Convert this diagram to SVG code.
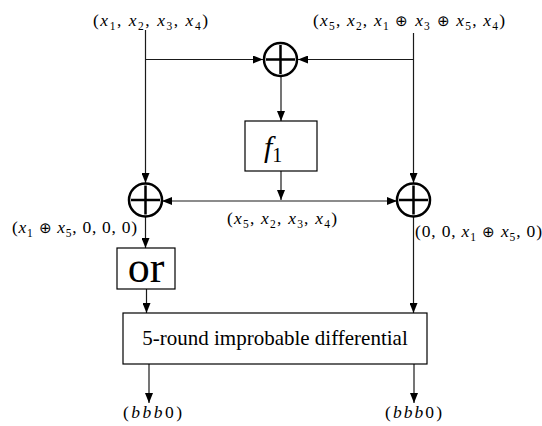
<svg xmlns="http://www.w3.org/2000/svg" width="542" height="426" viewBox="0 0 542 426">
<style>
.lb{font-size:17.5px}
.v{font-style:italic}
.s{font-size:11.5px}
.op{font-size:15px}
.ln{stroke:#1a1a1a;stroke-width:1.2;fill:none}
.xor{stroke:#000;stroke-width:2.5;fill:#fff}
.box{stroke:#000;stroke-width:1.2;fill:#fff}
</style>
<defs>
<marker id="ah" viewBox="0 0 10 8" refX="10" refY="4" markerWidth="10" markerHeight="8" markerUnits="userSpaceOnUse" orient="auto-start-reverse">
<path d="M0,0 L10,4 L0,8 z" fill="#000"/>
</marker>
</defs>
<g id="connectors">
<path class="ln" d="M145.5,30 V183" marker-end="url(#ah)"/>
<path class="ln" d="M145.5,59.5 H263" marker-end="url(#ah)"/>
<path class="ln" d="M413.5,33 V183" marker-end="url(#ah)"/>
<path class="ln" d="M413.5,59.5 H298" marker-end="url(#ah)"/>
<path class="ln" d="M281,76 V121" marker-end="url(#ah)"/>
<path class="ln" d="M281,171 V200" marker-end="url(#ah)"/>
<path class="ln" d="M162,201 H397" marker-start="url(#ah)" marker-end="url(#ah)"/>
<path class="ln" d="M145.5,217 V248" marker-end="url(#ah)"/>
<path class="ln" d="M146.5,289 V313" marker-end="url(#ah)"/>
<path class="ln" d="M413.5,217 V313" marker-end="url(#ah)"/>
<path class="ln" d="M149,364 V403" marker-end="url(#ah)"/>
<path class="ln" d="M414,364 V403" marker-end="url(#ah)"/>
</g>
<g id="xor-top">
<circle class="xor" cx="280.5" cy="59.5" r="16.5"/>
<path class="xor" d="M266,59.5 H295 M280.5,45 V74"/>
</g>
<g id="xor-left">
<circle class="xor" cx="145.5" cy="200" r="16.5"/>
<path class="xor" d="M131,200 H160 M145.5,185.5 V214.5"/>
</g>
<g id="xor-right">
<circle class="xor" cx="413.5" cy="200" r="16.5"/>
<path class="xor" d="M399,200 H428 M413.5,185.5 V214.5"/>
</g>
<g id="f1">
<rect class="box" x="245" y="121" width="72" height="50"/>
<text x="264" y="157" font-size="30" style="font-family:'Liberation Serif',serif"><tspan class="v">f</tspan><tspan font-size="20" dy="5">1</tspan></text>
</g>
<g id="or">
<rect class="box" x="117" y="248" width="58" height="41"/>
<text x="146" y="282" font-size="44" style="font-family:'Liberation Serif',serif" text-anchor="middle">or</text>
</g>
<g id="improbable">
<rect class="box" x="123" y="313" width="304" height="51"/>
<text x="275" y="345" font-size="21" style="font-family:'Liberation Serif',serif" text-anchor="middle">5-round improbable differential</text>
</g>
<g id="labels">
<text class="lb" style="font-family:'Liberation Serif',serif" x="93" y="26" textLength="115" lengthAdjust="spacing">(<tspan class="v">x</tspan><tspan class="s" dy="4">1</tspan><tspan dy="-4">, </tspan><tspan class="v">x</tspan><tspan class="s" dy="4">2</tspan><tspan dy="-4">, </tspan><tspan class="v">x</tspan><tspan class="s" dy="4">3</tspan><tspan dy="-4">, </tspan><tspan class="v">x</tspan><tspan class="s" dy="4">4</tspan><tspan dy="-4">)</tspan></text>
<text class="lb" style="font-family:'Liberation Serif',serif" x="313" y="26" textLength="192" lengthAdjust="spacing">(<tspan class="v">x</tspan><tspan class="s" dy="4">5</tspan><tspan dy="-4">, </tspan><tspan class="v">x</tspan><tspan class="s" dy="4">2</tspan><tspan dy="-4">, </tspan><tspan class="v">x</tspan><tspan class="s" dy="4">1</tspan><tspan dy="-4"> </tspan><tspan class="op">&#8853;</tspan> <tspan class="v">x</tspan><tspan class="s" dy="4">3</tspan><tspan dy="-4"> </tspan><tspan class="op">&#8853;</tspan> <tspan class="v">x</tspan><tspan class="s" dy="4">5</tspan><tspan dy="-4">, </tspan><tspan class="v">x</tspan><tspan class="s" dy="4">4</tspan><tspan dy="-4">)</tspan></text>
<text class="lb" style="font-family:'Liberation Serif',serif" x="227" y="224" textLength="110" lengthAdjust="spacing">(<tspan class="v">x</tspan><tspan class="s" dy="4">5</tspan><tspan dy="-4">, </tspan><tspan class="v">x</tspan><tspan class="s" dy="4">2</tspan><tspan dy="-4">, </tspan><tspan class="v">x</tspan><tspan class="s" dy="4">3</tspan><tspan dy="-4">, </tspan><tspan class="v">x</tspan><tspan class="s" dy="4">4</tspan><tspan dy="-4">)</tspan></text>
<text class="lb" style="font-family:'Liberation Serif',serif" x="12" y="233" textLength="125" lengthAdjust="spacing">(<tspan class="v">x</tspan><tspan class="s" dy="4">1</tspan><tspan dy="-4"> </tspan><tspan class="op">&#8853;</tspan> <tspan class="v">x</tspan><tspan class="s" dy="4">5</tspan><tspan dy="-4">, 0, 0, 0)</tspan></text>
<text class="lb" style="font-family:'Liberation Serif',serif" x="415" y="237" textLength="127" lengthAdjust="spacing">(0, 0, <tspan class="v">x</tspan><tspan class="s" dy="4">1</tspan><tspan dy="-4"> </tspan><tspan class="op">&#8853;</tspan> <tspan class="v">x</tspan><tspan class="s" dy="4">5</tspan><tspan dy="-4">, 0)</tspan></text>
<text class="lb" style="font-family:'Liberation Serif',serif" x="123" y="418" textLength="59" lengthAdjust="spacing">(<tspan class="v">bbb</tspan>0)</text>
<text class="lb" style="font-family:'Liberation Serif',serif" x="385" y="418" textLength="57" lengthAdjust="spacing">(<tspan class="v">bbb</tspan>0)</text>
</g>
</svg>
